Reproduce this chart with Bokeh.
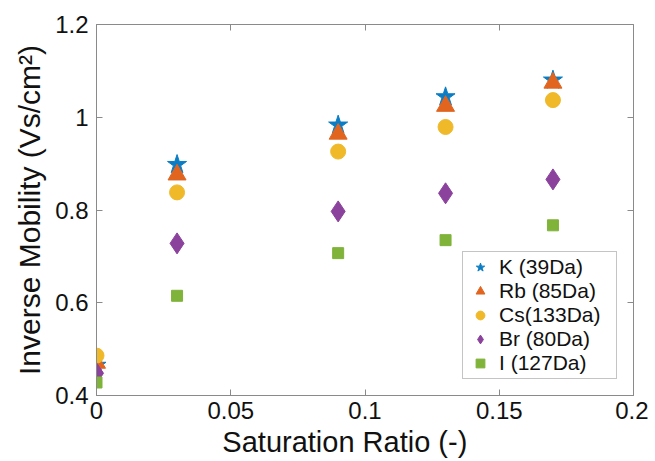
from bokeh.plotting import figure
from bokeh.models import Range1d, LinearAxis, Legend, LegendItem, FixedTicker
from bokeh.embed import file_html
from bokeh.resources import INLINE

x_vals = [0, 0.03, 0.09, 0.13, 0.17]
k_vals = [0.465, 0.898, 0.983, 1.044, 1.080]
rb_vals = [0.470, 0.876, 0.964, 1.024, 1.074]
cs_vals = [0.486, 0.838, 0.926, 0.979, 1.037]
br_vals = [0.448, 0.728, 0.797, 0.836, 0.866]
i_vals = [0.428, 0.615, 0.707, 0.735, 0.767]
labels = ["K (39Da)", "Rb (85Da)", "Cs(133Da)", "Br (80Da)", "I (127Da)"]
x_ticks = [0, 0.05, 0.1, 0.15, 0.2]
y_ticks = [0.4, 0.6, 0.8, 1.0, 1.2]

FONT = "Liberation Sans"
AX = "#8a8a8a"

p = figure(width=648, height=460, output_backend="svg", toolbar_location=None,
           x_range=Range1d(0, 0.2), y_range=Range1d(0.4, 1.2),
           min_border_left=96, min_border_top=24, min_border_right=15, min_border_bottom=63)
p.grid.visible = False
p.outline_line_color = AX
p.outline_line_width = 1

for ax, ticks in ((p.xaxis[0], x_ticks), (p.yaxis[0], y_ticks)):
    ax.ticker = FixedTicker(ticks=ticks)
    ax.axis_line_color = AX
    ax.major_tick_line_color = AX
    ax.major_tick_in = 6
    ax.major_tick_out = 0
    ax.minor_tick_line_color = None
    ax.major_label_text_font = FONT
    ax.major_label_text_font_size = "24px"
    ax.major_label_text_color = "#111111"
    ax.axis_label_text_font = FONT
    ax.axis_label_text_font_style = "normal"
    ax.axis_label_text_color = "#111111"

p.xaxis[0].axis_label_text_font_size = "29px"
p.yaxis[0].axis_label_text_font_size = "30px"
p.xaxis[0].major_label_overrides = {0: "0", 0.05: "0.05", 0.1: "0.1", 0.15: "0.15", 0.2: "0.2"}
p.yaxis[0].major_label_overrides = {0.4: "0.4", 0.6: "0.6", 0.8: "0.8", 1.0: "1", 1.2: "1.2"}
p.xaxis[0].axis_label = "Saturation Ratio (-)" + "\u00a0" * 5
p.yaxis[0].axis_label = "Inverse Mobility (Vs/cm²)"
p.xaxis[0].major_label_standoff = 6
p.yaxis[0].major_label_standoff = 8
p.xaxis[0].axis_label_standoff = 4
p.yaxis[0].axis_label_standoff = 6

for loc, ticks in (("right", y_ticks), ("above", x_ticks)):
    a = LinearAxis(ticker=FixedTicker(ticks=ticks))
    a.axis_line_color = None
    a.major_tick_line_color = AX
    a.major_tick_in = 6
    a.major_tick_out = 0
    a.minor_tick_line_color = None
    a.major_label_text_font_size = "0px"
    a.major_label_text_color = None
    p.add_layout(a, loc)

r1 = p.scatter(x_vals, k_vals, marker="star", size=20, color="#0b7dc4", line_color="#0b7dc4")
r2 = p.scatter(x_vals, rb_vals, marker="triangle", size=18, color="#e1651f", line_color="#e1651f")
r3 = p.scatter(x_vals, cs_vals, marker="circle", size=15, color="#f0b92a", line_color="#f0b92a")
r4 = p.scatter(x_vals, br_vals, marker="diamond", size=21, color="#8b429c", line_color="#8b429c")
r5 = p.scatter(x_vals, i_vals, marker="square", size=11, color="#7fb33a", line_color="#7fb33a")

legend = Legend(items=[LegendItem(label=l, renderers=[r]) for l, r in zip(labels, [r1, r2, r3, r4, r5])],
                location="bottom_right")
legend.margin = 16
legend.padding = 3
legend.spacing = 0
legend.glyph_width = 28
legend.glyph_height = 22
legend.label_height = 22
legend.label_width = 114
legend.label_standoff = 5
legend.label_text_font = FONT
legend.label_text_font_size = "21px"
legend.label_text_color = "#111111"
legend.border_line_color = AX
legend.border_line_width = 1
legend.background_fill_color = "white"
legend.background_fill_alpha = 1
p.add_layout(legend, "center")

open("out.html", "w").write(file_html(p, INLINE))
